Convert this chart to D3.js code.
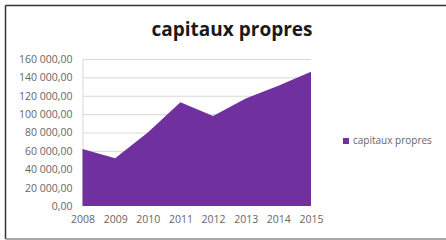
<!DOCTYPE html>
<html>
<head>
<meta charset="utf-8">
<script src="https://cdn.jsdelivr.net/npm/d3@7.9.0/dist/d3.min.js"></script>
<style>
  body { margin: 0; background: #fff; }
  svg { display: block; }
</style>
</head>
<body>
<svg id="chart" width="446" height="240"></svg>
<script>
const years = ['2008', '2009', '2010', '2011', '2012', '2013', '2014', '2015'];
const capitaux = [62000, 52000, 80000, 113000, 98000, 117000, 131000, 146000];
const yTicks = [0, 20000, 40000, 60000, 80000, 100000, 120000, 140000, 160000];
const seriesName = 'capitaux propres';

const svg = d3.select('#chart');

// frame
svg.append('line').attr('x1', 5.5).attr('y1', 5.5).attr('x2', 446).attr('y2', 5.5)
  .attr('stroke', '#333').attr('stroke-width', 1.5);
svg.append('line').attr('x1', 5.5).attr('y1', 5.5).attr('x2', 5.5).attr('y2', 239)
  .attr('stroke', '#333').attr('stroke-width', 1.5);
svg.append('line').attr('x1', 5.5).attr('y1', 239).attr('x2', 446).attr('y2', 239)
  .attr('stroke', '#888').attr('stroke-width', 1.5);

const x = d3.scalePoint().domain(years).range([82.5, 311]);
const y = d3.scaleLinear().domain([0, 160000]).range([206, 59]);

const fmt = v => d3.format(',.2f')(v).replace(/,/g, ' ').replace('.', ',');

// gridlines
svg.append('g')
  .selectAll('line')
  .data(yTicks.slice(1))
  .join('line')
  .attr('x1', 82.5).attr('x2', 311)
  .attr('y1', d => y(d) + 0.5).attr('y2', d => y(d) + 0.5)
  .attr('stroke', '#d9d9d9').attr('stroke-width', 1);

// y axis
const yAxis = svg.append('g')
  .attr('transform', 'translate(82.5,0)')
  .call(d3.axisLeft(y).tickValues(yTicks).tickFormat(fmt).tickSize(0).tickPadding(10));
yAxis.select('.domain').attr('stroke', '#d9d9d9');
yAxis.selectAll('text')
  .attr('fill', '#666')
  .style('font-family', 'Open Sans, sans-serif')
  .style('font-size', '10.5px');

// area
const area = d3.area()
  .x((d, i) => x(years[i]))
  .y0(y(0))
  .y1(d => y(d));

svg.append('path')
  .datum(capitaux)
  .attr('d', area)
  .attr('fill', '#7030a0');

// x axis
const xAxis = svg.append('g')
  .attr('transform', `translate(0,${y(0)})`)
  .call(d3.axisBottom(x).tickSize(0).tickPadding(10));
xAxis.select('.domain').remove();
xAxis.selectAll('text')
  .attr('fill', '#666')
  .style('font-family', 'Open Sans, sans-serif')
  .style('font-size', '10.5px');

// title
svg.append('text')
  .attr('x', 232).attr('y', 36)
  .attr('text-anchor', 'middle')
  .attr('fill', '#1a1a1a')
  .style('font-family', 'Open Sans, sans-serif')
  .style('font-weight', 'bold')
  .style('font-size', '19px')
  .text(seriesName);

// legend
svg.append('rect')
  .attr('x', 343).attr('y', 138).attr('width', 6).attr('height', 6)
  .attr('fill', '#7030a0');
svg.append('text')
  .attr('x', 353).attr('y', 144)
  .attr('fill', '#666')
  .style('font-family', 'Open Sans, sans-serif')
  .style('font-size', '10px')
  .text(seriesName);
</script>
</body>
</html>
